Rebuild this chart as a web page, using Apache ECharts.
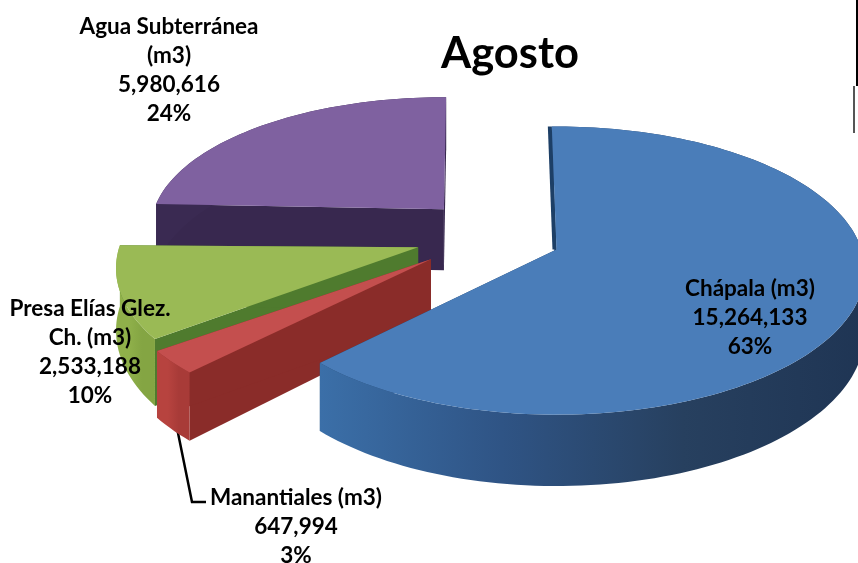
<!DOCTYPE html>
<html>
<head>
<meta charset="utf-8">
<script src="https://cdn.jsdelivr.net/npm/echarts@6/dist/echarts.min.js"></script>
<style>html,body{margin:0;padding:0;background:#fff}#c{width:858px;height:563px}</style>
</head>
<body>
<div id="c"></div>
<script>
// Data
const titleText = 'Agosto';
const categories = ['Chápala (m3)', 'Manantiales (m3)', 'Presa Elías Glez.\nCh. (m3)', 'Agua Subterránea\n(m3)'];
const values = [15264133, 647994, 2533188, 5980616];
const percentLabels = ['63%', '3%', '10%', '24%'];

// Styles and layout
const topColors = ['#4a7db9', '#c44f4e', '#9aba55', '#7f61a0'];
const wallColors = [
  ['#3b6fa8', '#2f5485', '#27405f', '#1f3554'],
  ['#b7433f', '#b7433f', '#a83b38', '#a83b38'],
  ['#8fb04a', '#8fb04a', '#84a543', '#84a543'],
  ['#3a2a52', '#3a2a52', '#3a2a52', '#3a2a52']
];
const cutColors = ['#1d3f66', '#8a2c29', '#4f7b2e', '#38284f'];
const drawRank = [4, 3, 2, 1];
const explodeX = [1.03, 1.17, 1.12, 1];
const explodeY = [1, 0.95, 1.0, 1];
const radiusScaleX = [1, 1.02, 0.98, 0.95];
const radiusScaleY = [1, 1, 1, 0.91];
const angleNudge = [0, 0, 0, 1.5];
const startAngle = -1;
const center = [491, 236];
const radius = [305, 141];
const explodeScale = [0.224, 0.262];
const perspective = 0.146;
const depth = 61;
const labelCenters = [[750, 318], [296, 527], [90, 352], [169, 70]];

const total = values.reduce((a, b) => a + b, 0);
const starts = [];
values.reduce((acc, v, i) => { starts[i] = acc; return acc + v / total * 360; }, startAngle);

function project(apex, a, i) {
  const t = a * Math.PI / 180, u = Math.sin(t), v = -Math.cos(t);
  const p = 1 / (1 - perspective * v);
  return {
    x: apex[0] + radius[0] * radiusScaleX[i] * u * p,
    y: apex[1] + radius[1] * radiusScaleY[i] * v * p,
    d: depth * p
  };
}
function renderItem(params, api) {
  const i = params.dataIndex;
  const sweep = api.value(0) / total * 360;
  const a0 = starts[i] + angleNudge[i], a1 = a0 + sweep, mid = (a0 + a1) * Math.PI / 360;
  const apex = [
    center[0] + explodeX[i] * explodeScale[0] * radius[0] * Math.sin(mid),
    center[1] - explodeY[i] * explodeScale[1] * radius[1] * Math.cos(mid)
  ];
  const arc = [];
  const steps = Math.ceil(sweep / 1.5);
  for (let s = 0; s <= steps; s++) arc.push(project(apex, a0 + (a1 - a0) * s / steps, i));
  const top = [apex].concat(arc.map(q => [q.x, q.y]));
  const wall = arc.map(q => [q.x, q.y]).concat(arc.slice().reverse().map(q => [q.x, q.y + q.d]));
  const e0 = arc[0], e1 = arc[arc.length - 1];
  const cut = e => [apex, [e.x, e.y], [e.x, e.y + e.d], [apex[0], apex[1] + depth]];
  const base = drawRank[i] * 10;
  const grad = {
    type: 'linear', x: 0, y: 0, x2: 1, y2: 0,
    colorStops: wallColors[i].map((c, k) => ({ offset: k / 3, color: c }))
  };
  const children = [
    { type: 'polygon', z2: base, shape: { points: cut(e0) }, style: { fill: cutColors[i] } },
    { type: 'polygon', z2: base + 1, shape: { points: cut(e1) }, style: { fill: cutColors[i] } },
    { type: 'polygon', z2: base + 2, shape: { points: wall }, style: { fill: grad } },
    { type: 'polygon', z2: base + 3, shape: { points: top }, style: { fill: topColors[i] } }
  ];
  if (i === 0) {
    children.splice(3, 0, {
      type: 'line', z2: base + 3,
      shape: { x1: e0.x - 2, y1: e0.y, x2: apex[0] - 2, y2: apex[1] },
      style: { stroke: cutColors[i], lineWidth: 4 }
    });
  }
  children.push({
    type: 'text', z2: 100, x: labelCenters[i][0], y: labelCenters[i][1],
    style: {
      text: categories[i] + '\n' + api.value(0).toLocaleString('en-US') + '\n' + percentLabels[i],
      fill: '#000', fontFamily: 'Lato', fontWeight: 'bold', fontSize: 22.5, lineHeight: 29, align: 'center', verticalAlign: 'middle'
    }
  });
  return { type: 'group', children };
}

const chart = echarts.init(document.getElementById('c'), null, { renderer: 'canvas' });
chart.setOption({
  animation: false,
  backgroundColor: '#ffffff',
  title: {
    text: titleText, left: 436, top: 27,
    textStyle: { fontFamily: 'Lato', fontWeight: 'bold', fontSize: 43.5, color: '#000' }
  },
  series: [{
    type: 'custom', coordinateSystem: 'none', silent: true,
    renderItem, data: values.map(v => [v])
  }],
  graphic: [
    { type: 'polyline', z: 1, shape: { points: [[177, 428], [192, 502], [206, 502]] }, style: { stroke: '#000', lineWidth: 2.5, fill: null } },
    { type: 'rect', shape: { x: 856, y: 0, width: 2, height: 86 }, style: { fill: '#000' } },
    { type: 'rect', shape: { x: 853, y: 86, width: 2, height: 47 }, style: { fill: '#555' } }
  ]
});
</script>
</body>
</html>
